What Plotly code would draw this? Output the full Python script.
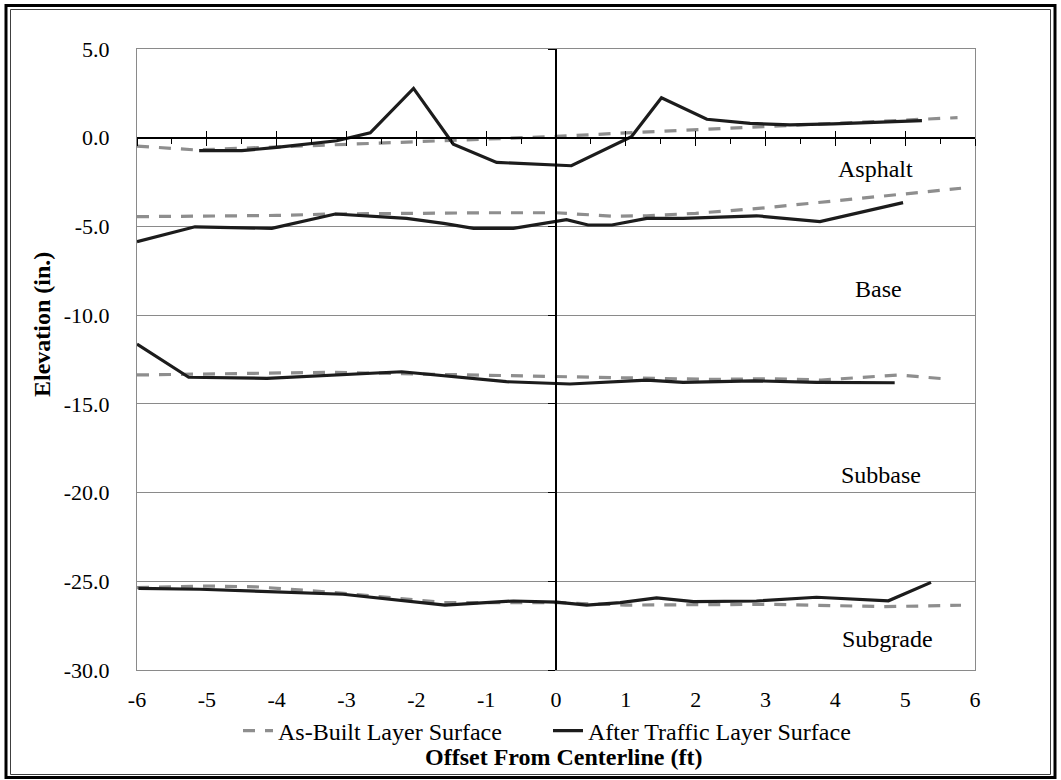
import plotly.graph_objects as go

# ---- surface profiles: offset from centerline (ft) vs elevation (in.) ----
# As-built layer surfaces
asbuilt_asphalt_x = [-6, -5.15, -4, -3, -2, -1, 0, 1, 2, 3, 4, 5, 5.75]
asbuilt_asphalt_y = [-0.47, -0.69, -0.52, -0.38, -0.21, -0.08, 0.07, 0.27, 0.46, 0.65, 0.82, 1.0, 1.13]

asbuilt_base_x = [-6, -5, -4, -3.2, -2, -1, 0, 0.8, 1.3, 2, 3, 4, 5, 5.8]
asbuilt_base_y = [-4.45, -4.43, -4.38, -4.3, -4.25, -4.23, -4.23, -4.42, -4.4, -4.26, -3.95, -3.56, -3.2, -2.85]

asbuilt_subbase_x = [-6, -5, -4, -3.2, -2.2, -1.3, 0, 1.2, 2.2, 3.1, 3.8, 4.9, 5.6]
asbuilt_subbase_y = [-13.37, -13.33, -13.28, -13.22, -13.3, -13.37, -13.47, -13.53, -13.62, -13.58, -13.66, -13.37, -13.6]

asbuilt_subgrade_x = [-6, -5, -4.3, -3.7, -3.2, -1.6, 0, 1, 2, 3.1, 4.7, 5.8]
asbuilt_subgrade_y = [-25.36, -25.27, -25.31, -25.49, -25.62, -26.2, -26.2, -26.34, -26.3, -26.3, -26.43, -26.35]

# After-traffic layer surfaces
traffic_asphalt_x = [-5.11, -4.5, -4.0, -3.14, -2.66, -2.04, -1.47, -0.85, 0.22, 1.08, 1.51, 2.16, 2.78, 3.35, 3.97, 4.59, 5.24]
traffic_asphalt_y = [-0.73, -0.73, -0.54, -0.17, 0.28, 2.78, -0.36, -1.39, -1.58, 0.06, 2.25, 1.04, 0.81, 0.72, 0.78, 0.87, 0.96]

traffic_base_x = [-6, -5.17, -4.07, -3.16, -2.14, -1.61, -1.18, -0.61, 0.15, 0.46, 0.80, 1.30, 1.82, 2.87, 3.78, 4.97]
traffic_base_y = [-5.86, -5.02, -5.11, -4.30, -4.55, -4.83, -5.11, -5.11, -4.62, -4.92, -4.92, -4.55, -4.55, -4.40, -4.73, -3.66]

traffic_subbase_x = [-6, -5.26, -4.14, -2.21, -0.71, 0.01, 0.2, 1.3, 1.82, 2.83, 3.73, 4.85]
traffic_subbase_y = [-11.63, -13.50, -13.56, -13.19, -13.75, -13.84, -13.88, -13.66, -13.79, -13.70, -13.79, -13.81]

traffic_subgrade_x = [-5.98, -5.1, -3.05, -1.59, -0.61, 0.01, 0.44, 0.92, 1.44, 1.97, 2.87, 3.73, 4.76, 5.37]
traffic_subgrade_y = [-25.40, -25.45, -25.73, -26.34, -26.11, -26.17, -26.34, -26.2, -25.93, -26.15, -26.11, -25.9, -26.1, -25.06]

series_names = ["As-Built Layer Surface", "After Traffic Layer Surface"]
layer_names = ["Asphalt", "Base", "Subbase", "Subgrade"]
x_ticks = [-6, -5, -4, -3, -2, -1, 0, 1, 2, 3, 4, 5, 6]
y_ticks = [5, 0, -5, -10, -15, -20, -25, -30]

asbuilt = [(asbuilt_asphalt_x, asbuilt_asphalt_y), (asbuilt_base_x, asbuilt_base_y),
           (asbuilt_subbase_x, asbuilt_subbase_y), (asbuilt_subgrade_x, asbuilt_subgrade_y)]
traffic = [(traffic_asphalt_x, traffic_asphalt_y), (traffic_base_x, traffic_base_y),
           (traffic_subbase_x, traffic_subbase_y), (traffic_subgrade_x, traffic_subgrade_y)]

# ---- page geometry (px) ----
W, H = 1061, 780
ML, MR, MT, MB = 137, 86, 49, 110
PW, PH = W - ML - MR, H - MT - MB


def fx(p):
    return (p - ML) / PW


def fy(p):
    return (H - MB - p) / PH


FONT = "Liberation Serif, Times New Roman, serif"
GRAY = "#8e8e8e"
DARK = "#1c1c1c"
GRID = "#8a8a8a"

fig = go.Figure()

for i, (xs, ys) in enumerate(asbuilt):
    fig.add_trace(go.Scatter(x=xs, y=ys, mode="lines", name=series_names[0],
                             legendgroup="asbuilt", showlegend=(i == 0),
                             line=dict(color=GRAY, width=3.2, dash="12px,10px")))
for i, (xs, ys) in enumerate(traffic):
    fig.add_trace(go.Scatter(x=xs, y=ys, mode="lines", name=series_names[1],
                             legendgroup="traffic", showlegend=(i == 0),
                             line=dict(color=DARK, width=3.2)))

# empty traces so the crossing axes at x=0 / y=0 get drawn
fig.add_trace(go.Scatter(x=[None], y=[None], xaxis="x2", yaxis="y", showlegend=False, hoverinfo="skip"))
fig.add_trace(go.Scatter(x=[None], y=[None], xaxis="x3", yaxis="y", showlegend=False, hoverinfo="skip"))
fig.add_trace(go.Scatter(x=[None], y=[None], xaxis="x", yaxis="y2", showlegend=False, hoverinfo="skip"))

zero_frac = (0 - (-30)) / (5 - (-30))

fig.update_layout(
    width=W, height=H,
    margin=dict(l=ML, r=MR, t=MT, b=MB, autoexpand=False),
    paper_bgcolor="white", plot_bgcolor="white",
    font=dict(family=FONT, size=22, color="black"),
    xaxis=dict(range=[-6, 6], tickvals=x_ticks, ticktext=[str(v) for v in x_ticks],
               showgrid=False, zeroline=False, showline=True, linecolor=GRID, linewidth=1,
               mirror=True, ticks="", ticklabelstandoff=10,
               tickfont=dict(family=FONT, size=22)),
    yaxis=dict(range=[-30, 5], tickvals=y_ticks, ticktext=[f"{v:.1f}" for v in y_ticks],
               showgrid=True, gridcolor=GRID, gridwidth=1, zeroline=False,
               showline=True, linecolor=GRID, linewidth=1, mirror=True, ticks="",
               ticklabelstandoff=22, tickfont=dict(family=FONT, size=22)),
    xaxis2=dict(range=[-6, 6], overlaying="x", anchor="free", position=zero_frac,
                side="bottom", showline=True, linecolor="black", linewidth=2,
                showgrid=False, zeroline=False, showticklabels=False,
                tickvals=x_ticks, ticks="outside", ticklen=7, tickwidth=1.3, tickcolor="black",
                minor=dict(dtick=0.5, tick0=0, ticks="outside", ticklen=5, tickwidth=1.3,
                           tickcolor="black", showgrid=False)),
    xaxis3=dict(range=[-6, 6], overlaying="x", anchor="free", position=zero_frac,
                side="bottom", showline=False, showgrid=False, zeroline=False,
                showticklabels=False, tickvals=x_ticks, ticks="inside", ticklen=7,
                tickwidth=1.3, tickcolor="black"),
    yaxis2=dict(range=[-30, 5], overlaying="y", anchor="free", position=0.5, side="left",
                showline=True, linecolor="black", linewidth=2, showgrid=False, zeroline=False,
                showticklabels=False, tickvals=y_ticks, ticks="outside", ticklen=7,
                tickwidth=1.3, tickcolor="black"),
    legend=dict(orientation="h", x=fx(238), xanchor="left", y=fy(731), yanchor="middle",
                font=dict(family=FONT, size=24), bgcolor="rgba(0,0,0,0)",
                entrywidth=265, entrywidthmode="pixels", traceorder="normal"),
    showlegend=True,
)

# layer labels
label_pos = [(4.58, -1.75), (4.62, -8.5), (4.65, -19.0), (4.75, -28.25)]
for name, (lx, ly) in zip(layer_names, label_pos):
    fig.add_annotation(x=lx, y=ly, xref="x", yref="y", text=name, showarrow=False,
                       font=dict(family=FONT, size=24), xanchor="center", yanchor="middle")

# axis titles
fig.add_annotation(x=fx(563), y=fy(757), xref="paper", yref="paper",
                   text="<b>Offset From Centerline (ft)</b>", showarrow=False,
                   font=dict(family=FONT, size=24), xanchor="center", yanchor="middle")
fig.add_annotation(x=fx(42), y=fy(325), xref="paper", yref="paper",
                   text="<b>Elevation (in.)</b>", showarrow=False, textangle=-90,
                   font=dict(family=FONT, size=24), xanchor="center", yanchor="middle")

# double frame around the chart
fig.add_shape(type="rect", xref="paper", yref="paper",
              x0=fx(6), x1=fx(1055), y0=fy(777.5), y1=fy(5.5),
              line=dict(color="black", width=3), layer="above")
fig.add_shape(type="rect", xref="paper", yref="paper",
              x0=fx(10.5), x1=fx(1050.5), y0=fy(774.5), y1=fy(9.5),
              line=dict(color="#404040", width=1), layer="above")

fig.write_html("out.html")
